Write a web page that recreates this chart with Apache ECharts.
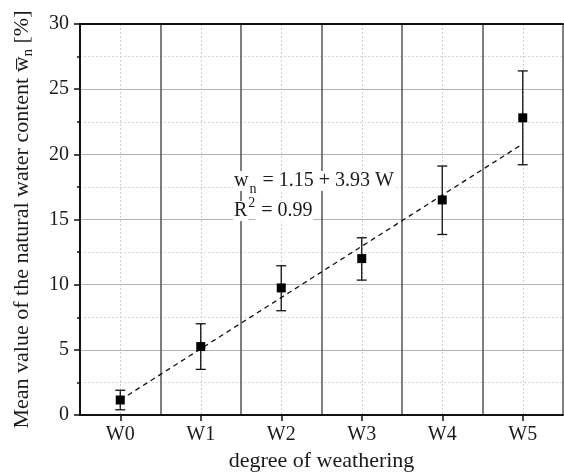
<!DOCTYPE html>
<html>
<head>
<meta charset="utf-8">
<script src="https://cdn.jsdelivr.net/npm/echarts@6/dist/echarts.min.js"></script>
<style>
html,body{margin:0;padding:0;background:#fff;}
#chart{width:564px;height:473px;}
</style>
</head>
<body>
<div id="chart"></div>
<script>
const categories = ['W0', 'W1', 'W2', 'W3', 'W4', 'W5'];
const meanValues = [1.15, 5.25, 9.75, 12.0, 16.5, 22.8];
const errLow = [0.4, 3.5, 8.0, 10.35, 13.85, 19.2];
const errHigh = [1.9, 7.0, 11.45, 13.6, 19.1, 26.4];
const fitValues = [1.15, null, null, null, null, 20.8];
const yTicks = [0, 5, 10, 15, 20, 25, 30];
// half-step positions used for the dotted center grid (-0.5 .. 5.5)
const halfSteps = ['b0','W0','b1','W1','b2','W2','b3','W3','b4','W4','b5','W5','b6'];

const FONT = '"Liberation Serif", "Times New Roman", serif';
const TXT = '#1a1a1a';

const chart = echarts.init(document.getElementById('chart'), null, {renderer: 'canvas'});

const errData = categories.map((c, i) => [i, errLow[i], errHigh[i]]);

const option = {
  backgroundColor: '#fff',
  animation: false,
  grid: {left: 80, right: 1, top: 24, bottom: 58, containLabel: false, outerBoundsMode: 'none'},
  xAxis: [
    {
      type: 'category',
      data: categories,
      position: 'bottom',
      boundaryGap: true,
      axisLine: {show: true, lineStyle: {color: '#111', width: 2}},
      axisTick: {show: true, alignWithLabel: true, length: 6, inside: false, lineStyle: {color: '#111', width: 1.5}},
      axisLabel: {color: TXT, fontFamily: FONT, fontSize: 20, margin: 10},
      splitLine: {show: true, lineStyle: {color: '#555', width: 1.5, type: 'solid'}},
      name: 'degree of weathering',
      nameLocation: 'middle',
      nameGap: 32,
      nameTextStyle: {color: TXT, fontFamily: FONT, fontSize: 22}
    },
    {
      type: 'category',
      data: halfSteps,
      position: 'top',
      boundaryGap: false,
      axisLine: {show: true, lineStyle: {color: '#111', width: 2}},
      axisTick: {show: false},
      axisLabel: {show: false},
      splitLine: {
        show: true,
        interval: function (index) { return index % 2 === 1; },
        lineStyle: {color: '#cfcfcf', width: 1, type: [2, 2]}
      }
    }
  ],
  yAxis: {
    type: 'value',
    min: 0,
    max: 30,
    interval: 5,
    axisLine: {show: true, lineStyle: {color: '#111', width: 2}},
    axisTick: {show: true, length: 6, lineStyle: {color: '#111', width: 1.5}},
    minorTick: {show: true, splitNumber: 2, length: 3, lineStyle: {color: '#111', width: 1.5}},
    axisLabel: {color: TXT, fontFamily: FONT, fontSize: 20, margin: 11},
    splitLine: {show: true, lineStyle: {color: '#b3b3b3', width: 1.2}},
    minorSplitLine: {show: true, lineStyle: {color: '#d6d6d6', width: 1, type: [2, 2]}},
    name: '{a|Mean value of the natural water content }{w|w\u0305}{s|n}{a| [%]}',
    nameLocation: 'middle',
    nameGap: 44,
    nameTextStyle: {
      color: TXT, fontFamily: FONT, fontSize: 22,
      rich: {
        a: {fontFamily: FONT, fontSize: 22, color: TXT, lineHeight: 27},
        w: {fontFamily: FONT, fontSize: 22, color: TXT, lineHeight: 27},
        s: {fontFamily: FONT, fontSize: 15, color: TXT, lineHeight: 14, verticalAlign: 'bottom'}
      }
    }
  },
  graphic: [
    {
      type: 'text',
      left: 233,
      top: 171,
      z: 10,
      style: {
        text: '{a|w}{s|n}{a| = 1.15 + 3.93 W}\n{a|R}{p|2}{a| = 0.99}',
        fill: TXT,
        font: '20px ' + FONT,
        rich: {
          a: {fontFamily: FONT, fontSize: 20, fill: TXT, lineHeight: 30, backgroundColor: '#fff', padding: [0, 1, 0, 1]},
          s: {fontFamily: FONT, fontSize: 14, fill: TXT, lineHeight: 14, verticalAlign: 'bottom', backgroundColor: '#fff'},
          p: {fontFamily: FONT, fontSize: 14, fill: TXT, lineHeight: 17, verticalAlign: 'top', backgroundColor: '#fff'}
        }
      }
    }
  ],
  series: [
    {
      type: 'line',
      data: fitValues,
      connectNulls: true,
      symbol: 'none',
      lineStyle: {color: '#111', width: 1.3, type: [5, 4]},
      z: 3,
      silent: true
    },
    {
      type: 'custom',
      data: errData,
      z: 4,
      renderItem: function (params, api) {
        const x = api.value(0);
        const lo = api.coord([x, api.value(1)]);
        const hi = api.coord([x, api.value(2)]);
        const cw = 5;
        const st = {stroke: '#111', lineWidth: 1.3};
        return {
          type: 'group',
          children: [
            {type: 'line', shape: {x1: lo[0], y1: lo[1], x2: hi[0], y2: hi[1]}, style: st},
            {type: 'line', shape: {x1: lo[0] - cw, y1: lo[1], x2: lo[0] + cw, y2: lo[1]}, style: st},
            {type: 'line', shape: {x1: hi[0] - cw, y1: hi[1], x2: hi[0] + cw, y2: hi[1]}, style: st}
          ]
        };
      }
    },
    {
      type: 'scatter',
      data: meanValues,
      symbol: 'rect',
      symbolSize: 9,
      itemStyle: {color: '#000', opacity: 1},
      z: 5
    }
  ]
};

chart.setOption(option);
</script>
</body>
</html>
